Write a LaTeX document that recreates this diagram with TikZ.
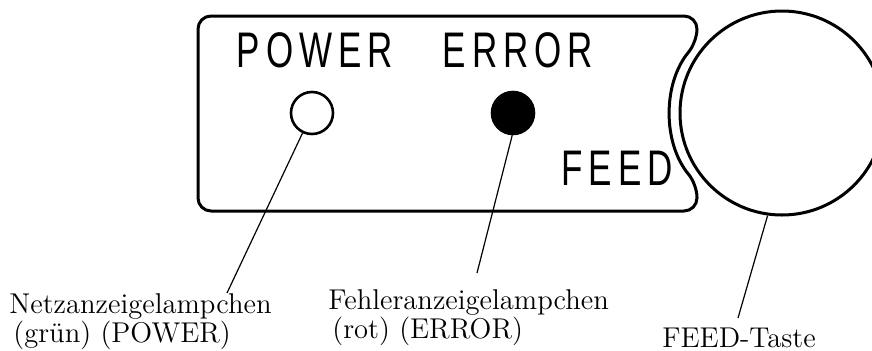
\documentclass[tikz,border=0pt]{standalone}
\usepackage{fontspec}
\newfontfamily\panelfont[FakeStretch=0.7,LetterSpace=12]{Liberation Sans}
\begin{document}
\begin{tikzpicture}[x=0.5pt, y=0.5pt,
        every node/.style={font=\fontsize{14.3}{12}\selectfont, inner sep=0pt},
        paneltext/.style={font=\panelfont\fontsize{25}{25}\selectfont},
        lamp/.style={circle, draw, line width=1.3pt, minimum size=21pt},
        leader/.style={line width=0.6pt},
        callout/.style={align=left, anchor=north west}]
    \useasboundingbox (0,0) rectangle (872,350);

    % panel with the cut-out for the button
    \draw[line width=1.5pt, rounded corners=6.5pt] (198,139) -- (198,334) -- (697,334) -- (697,308)
        arc[start angle=140.1, end angle=219.9, radius=111] -- (697,139) -- cycle;

    \node[paneltext] (powerlbl) at (315,300) {POWER};
    \node[paneltext] (errorlbl) at (518,300) {ERROR};
    \node[paneltext] (feedlbl) at (617,182) {FEED};

    \node[lamp] (powerled) at (312,237) {};
    \node[lamp, fill=black] (errorled) at (513,237) {};
    \node[circle, draw, line width=1.5pt, minimum size=102pt] (button) at (782,237) {};

    \node[callout] (netztext) at (9,57) {Netzanzeigelampchen\\\hspace{2pt}(grün) (POWER)};
    \node[callout] (fehlertext) at (328,61) {Fehleranzeigelampchen\\\hspace{2pt}(rot) (ERROR)};
    \node[anchor=base west] (feedtext) at (662,3) {FEED-Taste};

    \coordinate (netzend) at (227,57);
    \coordinate (fehlerend) at (477,77);
    \coordinate (feedend) at (738,32);

    \draw[leader] (powerled) -- (netzend);
    \draw[leader] (errorled.268) -- (fehlerend);
    \draw[leader] (button.262) -- (feedend);
\end{tikzpicture}
\end{document}
